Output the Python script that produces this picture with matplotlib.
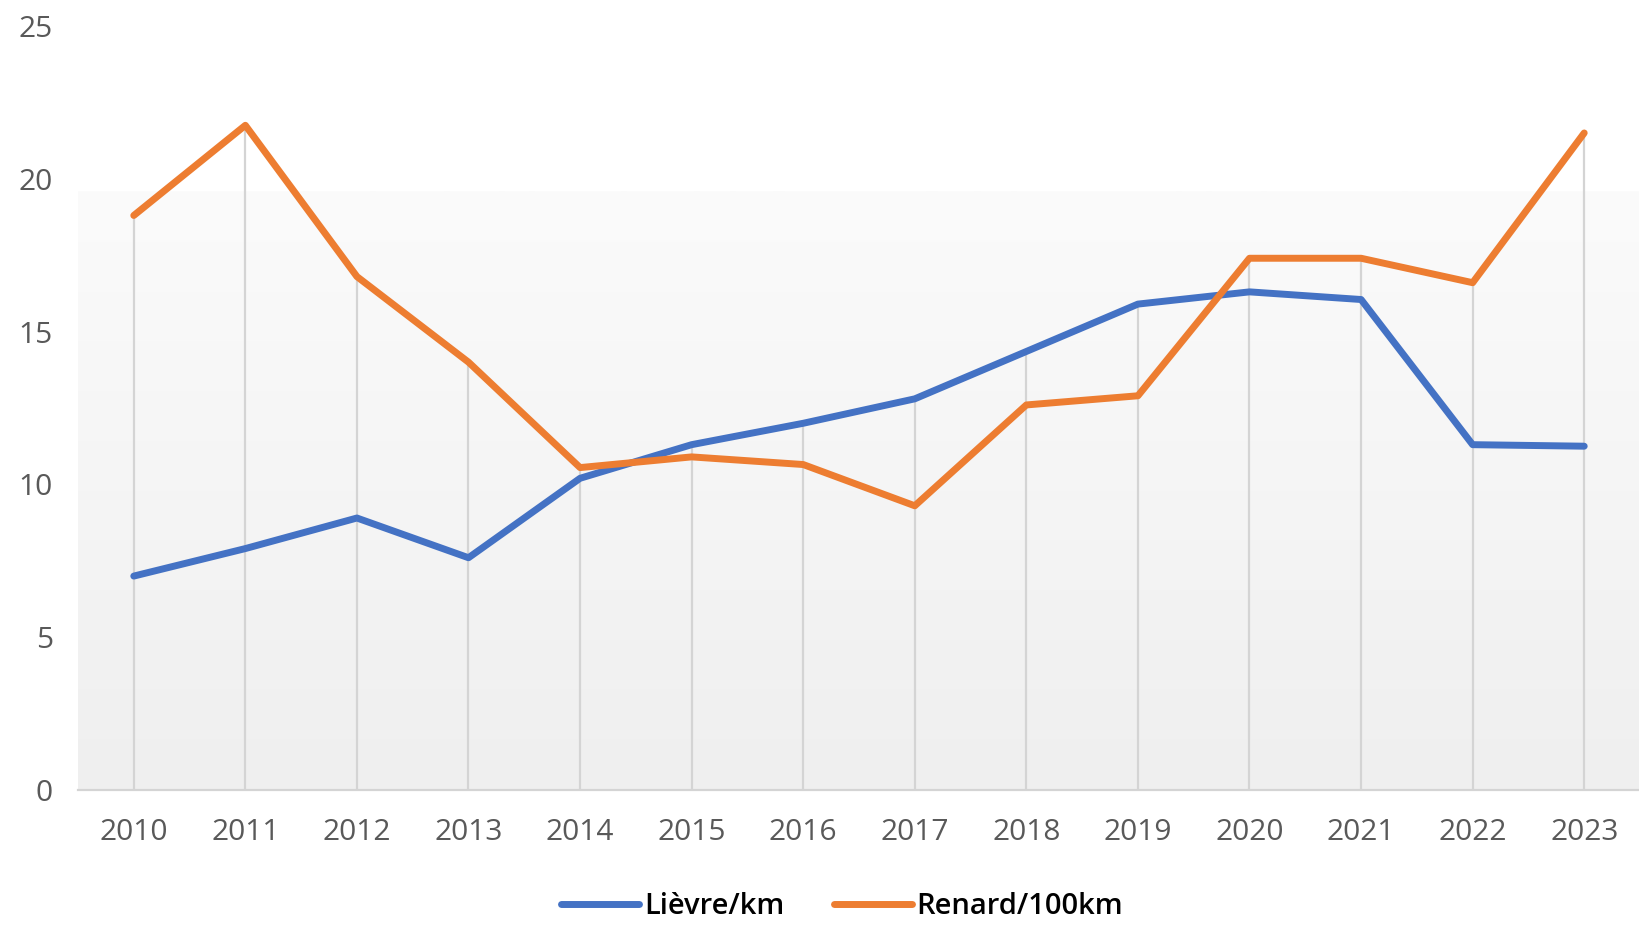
# Lièvre / Renard line chart

import numpy as np
import matplotlib.pyplot as plt
from matplotlib.colors import LinearSegmentedColormap

years = ['2010', '2011', '2012', '2013', '2014', '2015', '2016',
         '2017', '2018', '2019', '2020', '2021', '2022', '2023']
lievre = [7.0, 7.9, 8.9, 7.6, 10.2, 11.3, 12.0, 12.8, 14.35, 15.9, 16.3, 16.05, 11.3, 11.25]
renard = [18.8, 21.75, 16.8, 14.0, 10.55, 10.9, 10.65, 9.3, 12.6, 12.9, 17.4, 17.4, 16.6, 21.5]
labels = ['Lièvre/km', 'Renard/100km']

plt.rcParams['font.family'] = ['Open Sans', 'DejaVu Sans']

fig = plt.figure(figsize=(16.4, 9.25), dpi=100)
ax = fig.add_axes([78/1640, 1-790/925, 1-78/1640, (790-26)/925])

ind = np.arange(len(years))

# plot area gradient
cmap = LinearSegmentedColormap.from_list('bg', ['#efefef', '#fbfbfb'])
grad = np.linspace(0, 1, 256).reshape(-1, 1)
ax.imshow(grad, extent=(-0.5, len(years) - 0.5, 0, 19.6), origin='lower',
          cmap=cmap, aspect='auto', zorder=0)

# drop lines
top = np.maximum(lievre, renard)
ax.vlines(ind, 0, top, color='#d4d4d4', lw=1.6, zorder=1)

l1, = ax.plot(ind, lievre, color='#4472C4', lw=5.0, solid_capstyle='round', zorder=3)
l2, = ax.plot(ind, renard, color='#ED7D31', lw=5.0, solid_capstyle='round', zorder=3)

ax.set_xlim(-0.5, len(years) - 0.5)
ax.set_ylim(0, 25)
ax.set_xticks(ind)
ax.set_xticklabels(years)
ax.set_yticks([0, 5, 10, 15, 20, 25])
ax.tick_params(axis='both', length=0, labelsize=21.5, labelcolor='#595959')
ax.tick_params(axis='x', pad=20)
ax.tick_params(axis='y', pad=18)
for lab in ax.get_yticklabels():
    lab.set_horizontalalignment('right')

for s in ['top', 'right', 'left']:
    ax.spines[s].set_visible(False)
ax.spines['bottom'].set_color('#d4d4d4')
ax.spines['bottom'].set_linewidth(1.6)
ax.set_facecolor('none')

leg = fig.legend([l1, l2], labels, loc='center', bbox_to_anchor=(842/1640, 1-907/925),
                 ncol=2, frameon=False, handlelength=2.7, handletextpad=0.15,
                 columnspacing=1.7, prop={'size': 21, 'weight': 'semibold'})

plt.savefig('out.png', dpi=100)
